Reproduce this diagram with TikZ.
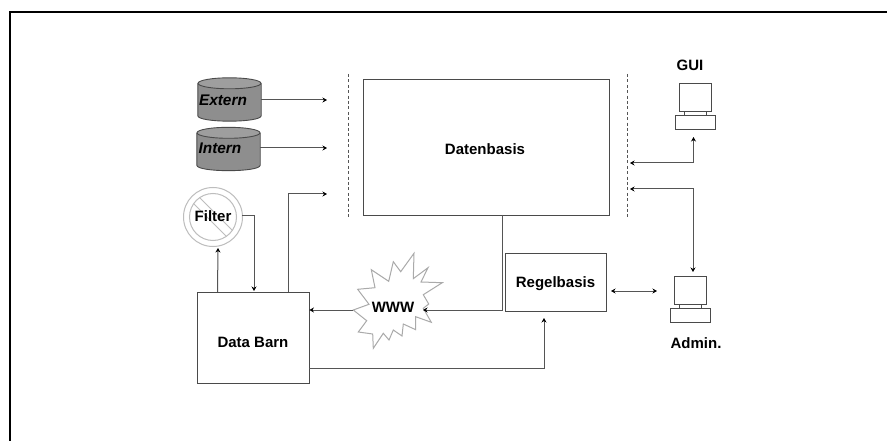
\documentclass[tikz,border=0pt]{standalone}
\usepackage{fontspec}
\setmainfont{Liberation Sans}
\usetikzlibrary{arrows.meta,calc}
\definecolor{lineGray}{HTML}{555555}
\definecolor{boxLine}{HTML}{4A4A4A}
\definecolor{softGray}{HTML}{BDBDBD}
\definecolor{cylBody}{HTML}{8E8E8E}
\definecolor{cylTop}{HTML}{9E9E9E}
\tikzset{
  x=1pt,y=-1pt,
  conn/.style={draw=lineGray,line width=1pt,-{Stealth[length=4.5pt,width=5pt,black]}},
  biconn/.style={draw=lineGray,line width=1pt,{Stealth[length=4.5pt,width=5pt,black]}-{Stealth[length=4.5pt,width=5pt,black]}},
  boxnode/.style={draw=boxLine,line width=0.9pt,fill=white,inner sep=0pt,font=\bfseries\fontsize{15}{18}\selectfont},
  lbl/.style={inner sep=0pt,font=\bfseries\fontsize{15}{18}\selectfont},
  ilbl/.style={inner sep=0pt,font=\bfseries\itshape\fontsize{15.4}{18}\selectfont},
  cylbox/.style={inner sep=0pt,minimum width=63pt,minimum height=43pt},
  cylpart/.style={draw=boxLine,line width=0.9pt},
  sep/.style={draw=lineGray,line width=1pt,dash pattern=on 3pt off 2.4pt},
  pcpart/.style={draw=boxLine,line width=0.9pt,fill=white},
  ringline/.style={draw=softGray,line width=1pt},
}
\newcommand{\pcicon}[2]{%
  \begin{scope}[shift={(#1,#2)}]
    \draw[pcpart] (5,-2) -- (5,3) (27,-2) -- (27,3);
    \draw[pcpart] (0,-30) rectangle (32,-2);
    \draw[pcpart] (-4,2) rectangle (36,16);
  \end{scope}}
\newcommand{\cylicon}[1]{%
  \fill[cylBody] (#1.north west) ++(0,5.5) -- ($(#1.south west)+(0,-5.5)$)
    .. controls +(0,7.3) and ($(#1.south east)+(0,1.8)$) .. ($(#1.south east)+(0,-5.5)$)
    -- ($(#1.north east)+(0,5.5)$) -- cycle;
  \draw[cylpart] ($(#1.north west)+(0,5.5)$) -- ($(#1.south west)+(0,-5.5)$)
    .. controls +(0,7.3) and ($(#1.south east)+(0,1.8)$) .. ($(#1.south east)+(0,-5.5)$)
    -- ($(#1.north east)+(0,5.5)$);
  \draw[cylpart,fill=cylTop] ($(#1.north)+(0,5.5)$) ellipse[x radius=31.5,y radius=5.5];}
\begin{document}
\begin{tikzpicture}
\useasboundingbox (0,0) rectangle (887,441);
\fill[white] (0,0) rectangle (887,441);
\draw[black,line width=2.4pt] (10,441) -- (10,12) -- (887,12);

% separators
\coordinate (sepLT) at (348,74); \coordinate (sepLB) at (348,219);
\coordinate (sepRT) at (627,74); \coordinate (sepRB) at (627,219);
\draw[sep] (sepLT) -- (sepLB);
\draw[sep] (sepRT) -- (sepRB);

% boxes
\node[boxnode,minimum width=246pt,minimum height=136pt] (datenbasis) at (486.5,147) {};
\node[lbl] (datenlabel) at (485,149) {Datenbasis};
\node[boxnode,minimum width=101pt,minimum height=58pt] (regelbasis) at (555.5,282) {};
\node[lbl] (regellabel) at (555.5,284) {Regelbasis};
\node[boxnode,minimum width=112pt,minimum height=91pt] (barn) at (253,337.5) {};
\node[lbl] (barnlabel) at (253,342) {Data Barn};

% cylinders
\node[cylbox] (extern) at (229.5,99.5) {};
\cylicon{extern}
\node[ilbl] (externlabel) at (223,100) {Extern};
\node[cylbox] (intern) at (228.5,149) {};
\cylicon{intern}
\node[ilbl] (internlabel) at (220,148) {Intern};

% filter
\coordinate (filterC) at (213,217);
\draw[ringline,fill=white] (filterC) circle[radius=29.5];
\draw[ringline] (filterC) circle[radius=23.5];
\begin{scope}
  \clip (filterC) circle[radius=23.5];
  \draw[ringline] ($(filterC)+(-30,-36)$) -- ($(filterC)+(36,30)$);
  \draw[ringline] ($(filterC)+(-36,-30)$) -- ($(filterC)+(30,36)$);
\end{scope}
\node[lbl] (filter) at (213,216) {Filter};

% WWW star
\draw[draw=softGray!90!black,line width=1pt,fill=white]
  (414,253.3) -- (413.3,278.7) -- (428,267.7) -- (421,282) -- (442.3,282.7) -- (423.3,294.7)
  -- (428.7,304) -- (423.3,308.3) -- (431.3,322.3) -- (415.7,316.7) -- (415.7,329.7)
  -- (403.3,324) -- (402,336) -- (393.3,330) -- (389,340) -- (383.3,333.3) -- (373.3,348.3)
  -- (372.7,334) -- (358.3,332) -- (366.7,320.7) -- (353.3,310) -- (369,304.3) -- (357.7,289.3)
  -- (375,287.7) -- (371.3,269.7) -- (388.7,281.3) -- (393.3,261.7) -- (400.7,271.7) -- cycle;
\node[lbl] (www) at (393,307) {WWW};

% computers
\pcicon{679}{113}
\node[lbl] (gui) at (690,65) {GUI};
\pcicon{674.5}{306}
\node[lbl] (admin) at (696,343) {Admin.};

% connectors
\coordinate (eEnd) at (327,100);
\coordinate (iEnd) at (327,148);
\coordinate (bEnd) at (327,194);
\draw[conn] (extern.east |- eEnd) -- (eEnd);
\draw[conn] (intern.east |- iEnd) -- (iEnd);
\draw[conn] (288,292) -- (288,194) -- (bEnd);
\coordinate (fOut) at (242,216);
\draw[conn] (fOut) -- (254,216) -- (254,291);
\coordinate (fIn) at (218,248);
\draw[conn] (217.5,292) -- (fIn);
\coordinate (wLeft) at (353,310);
\draw[conn] (wLeft) -- (barn.east |- wLeft);
\coordinate (wRight) at (423,310);
\draw[conn] (502,215) -- (502,310) -- (wRight);
\coordinate (rIn) at (544,318);
\draw[conn] (309,368) -- (544,368) -- (rIn);
\coordinate (rArrL) at (611,291); \coordinate (rArrR) at (657,291);
\draw[biconn] (rArrL) -- (rArrR);
\coordinate (gLeft) at (630,163); \coordinate (gTop) at (693.5,137);
\draw[biconn] (gTop) -- (693.5,163) -- (gLeft);
\coordinate (aLeft) at (630,189); \coordinate (aBot) at (693,272);
\draw[biconn] (aLeft) -- (693,189) -- (aBot);
\end{tikzpicture}
\end{document}
